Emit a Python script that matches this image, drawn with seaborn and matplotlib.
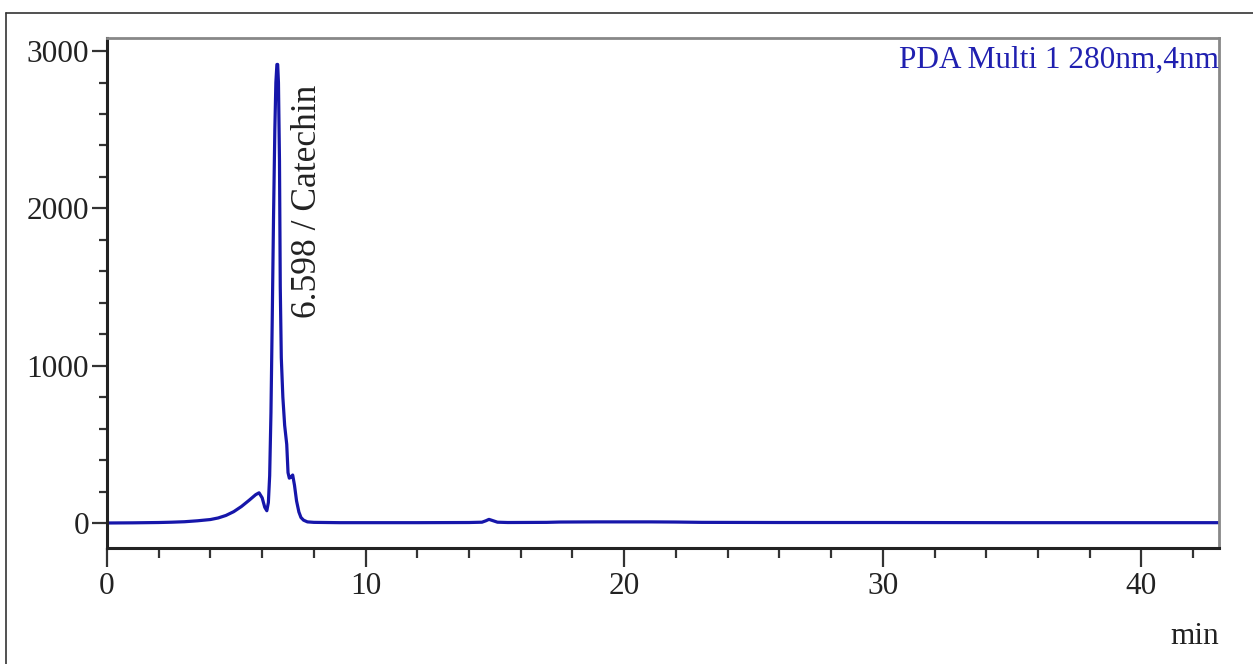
import matplotlib
matplotlib.use("Agg")
import matplotlib.pyplot as plt
import seaborn as sns
import pandas as pd
from matplotlib.lines import Line2D
from matplotlib.ticker import MultipleLocator

# Data (retention time in min, intensity in mAU)
time_min = [0.0, 1.0, 2.0, 2.5, 3.0, 3.5, 4.0, 4.3, 4.6, 4.9, 5.2, 5.5, 5.75, 5.88,
            6.0, 6.1, 6.18, 6.24, 6.29, 6.34, 6.39, 6.44, 6.49, 6.53, 6.57, 6.60, 6.63,
            6.67, 6.70, 6.74, 6.80, 6.87, 6.95, 7.0, 7.05, 7.10, 7.18, 7.25, 7.33,
            7.42, 7.5, 7.6, 7.75, 8.0, 9.0, 10.0, 12.0, 14.0, 14.5, 14.65, 14.77,
            14.9, 15.1, 15.5, 17.0, 17.5, 19.0, 21.0, 22.0, 23.0, 26.0, 30.0, 35.0,
            40.0, 43.0]
intensity = [0, 1, 3, 5, 8, 14, 22, 32, 48, 72, 105, 145, 180, 192,
             160, 100, 78, 130, 300, 700, 1300, 1950, 2500, 2800, 2915, 2915, 2800,
             2300, 1500, 1050, 800, 620, 500, 320, 285, 290, 305, 240, 140,
             70, 35, 18, 7, 4, 2, 2, 2, 3, 5, 14, 23,
             16, 5, 3, 4, 6, 7, 7, 6, 4, 3, 3, 2,
             2, 2]

peak_time = 6.598
peak_label = "6.598 / Catechin"
channel_label = "PDA Multi 1 280nm,4nm"
x_unit = "min"
x_ticks = [0, 10, 20, 30, 40]
y_ticks = [0, 1000, 2000, 3000]

df = pd.DataFrame({"t": time_min, "v": intensity})

sns.set_style("white")
plt.rcParams["font.family"] = ["Liberation Serif", "DejaVu Serif"]

W, H = 1253, 664
fig = plt.figure(figsize=(W / 100, H / 100), dpi=100)
ax = fig.add_axes([107 / W, 1 - 548 / H, (1219 - 107) / W, (548 - 38) / H])

line_color = "#1616aa"
sns.lineplot(data=df, x="t", y="v", ax=ax, color=line_color, lw=2.3,
             estimator=None, sort=False)

ax.set_xlim(0, 43)
ax.set_ylim(-159, 3083)
ax.set_xticks(x_ticks)
ax.set_yticks(y_ticks)
ax.xaxis.set_minor_locator(MultipleLocator(2))
ax.yaxis.set_minor_locator(MultipleLocator(200))
ax.set_xlabel("")
ax.set_ylabel("")

for s in ["left", "bottom"]:
    ax.spines[s].set_color("#222222")
    ax.spines[s].set_linewidth(2.2)
for s in ["top", "right"]:
    ax.spines[s].set_color("#888888")
    ax.spines[s].set_linewidth(2.0)

tick_fs = 22.5
ax.tick_params(axis="both", which="both", direction="out", width=1.6,
               color="#333333", labelsize=tick_fs, labelcolor="#222222")
ax.tick_params(axis="x", which="major", length=14, pad=3)
ax.tick_params(axis="x", which="minor", length=7)
ax.tick_params(axis="y", which="major", length=11, pad=2)
ax.tick_params(axis="y", which="minor", length=5.5)
ax.tick_params(left=True, bottom=True, which="both")

ax.annotate(peak_label, xy=(peak_time, 1303), xytext=(30, 0),
            textcoords="offset pixels", rotation=90, ha="center", va="bottom",
            fontsize=25.5, color="#222222")

ax.text(1.0, 0.985, channel_label, transform=ax.transAxes, ha="right", va="top",
        fontsize=tick_fs, color="#2020b0")

fig.text(1219 / W, 1 - 636 / H, x_unit, ha="right", va="center", fontsize=tick_fs,
         color="#222222")

# outer frame lines
fig.add_artist(Line2D([6 / W, 1.0], [1 - 13 / H, 1 - 13 / H], transform=fig.transFigure,
                      color="#333333", lw=1.2))
fig.add_artist(Line2D([6 / W, 6 / W], [1 - 13 / H, 0.0], transform=fig.transFigure,
                      color="#333333", lw=1.2))

fig.savefig("out.png", dpi=100, facecolor="white")
